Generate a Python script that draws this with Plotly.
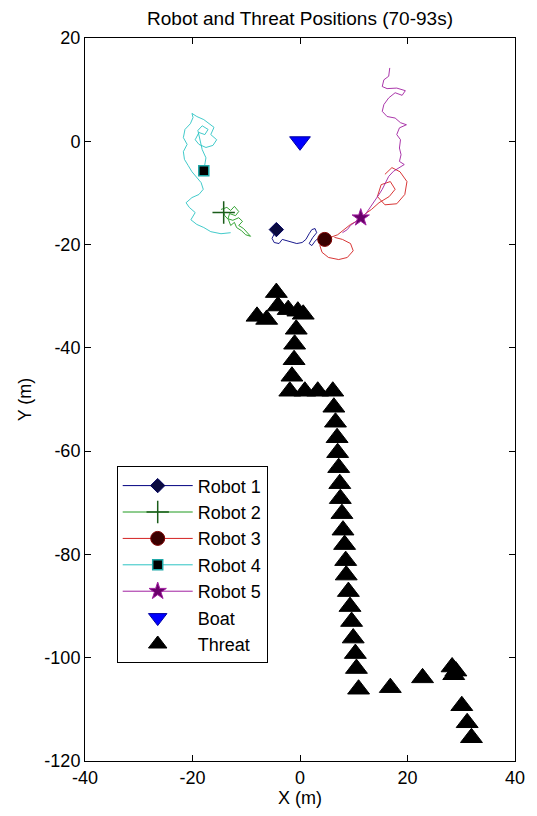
import plotly.graph_objects as go

# ---------------- data ----------------
r1_x = [-4.4, -4.8, -5.2, -4.8, -3.9, -3.3, -2.6, -1.5, -0.6, 0.4, 1.1, 1.7, 2.2, 2.8, 3.1, 2.4, 1.7, 2.2, 2.9, 3.7, 4.4]
r1_y = [-17.1, -17.9, -18.8, -19.6, -19.8, -19.0, -19.2, -19.4, -19.8, -19.6, -19.0, -17.9, -17.1, -16.9, -17.7, -18.6, -19.8, -20.2, -19.2, -18.6, -19.0]

r2_x = [-14.7, -13.6, -12.9, -12.2, -11.4, -12.0, -13.1, -13.4, -12.5, -11.4, -10.7, -11.4, -10.5, -9.8, -9.2, -10.1, -10.9, -11.8, -12.2, -12.9, -13.3, -14.0, -14.2]
r2_y = [-13.2, -12.8, -13.4, -12.6, -13.6, -14.4, -14.0, -15.0, -15.3, -14.8, -15.5, -16.3, -16.9, -17.7, -18.4, -18.1, -17.3, -16.7, -15.7, -16.3, -15.2, -14.4, -13.8]

r3_x = [15.8, 17.1, 18.6, 19.9, 19.5, 18.0, 15.8, 14.4, 15.1, 16.8, 17.7, 16.6, 14.7, 13.3, 12.2, 10.9, 9.4, 8.1, 7.0, 5.7, 4.6, 3.7, 4.1, 5.3, 7.2, 8.8, 9.9, 9.4, 7.9, 6.4]
r3_y = [-6.4, -5.1, -5.9, -7.8, -10.3, -12.1, -12.3, -10.7, -8.4, -7.8, -9.3, -10.7, -11.9, -13.2, -14.0, -15.3, -16.1, -17.1, -18.1, -18.6, -19.0, -20.2, -21.5, -22.5, -22.9, -22.5, -21.2, -19.8, -19.0, -18.6]

r4_x = [-12.9, -14.7, -16.6, -17.9, -19.2, -20.3, -19.5, -20.6, -21.2, -20.1, -18.8, -18.0, -18.4, -19.3, -20.1, -20.8, -21.5, -21.7, -21.0, -21.7, -21.4, -20.4, -19.9, -20.1, -19.2, -17.9, -16.9, -16.0, -16.6, -15.5, -16.2, -17.5, -18.8, -19.5, -18.8, -17.7, -17.1, -18.2, -19.0, -18.2, -17.5, -17.7, -17.9]
r4_y = [-17.7, -17.9, -17.5, -16.7, -16.1, -15.2, -13.8, -12.8, -11.9, -10.9, -10.3, -9.3, -8.0, -7.0, -5.9, -4.7, -3.5, -2.0, -0.6, 0.7, 2.3, 3.4, 4.6, 5.4, 4.8, 4.2, 3.4, 2.7, 1.3, 0.3, -0.8, -1.2, -0.6, 0.3, 1.7, 1.3, 2.3, 3.0, 2.1, -1.6, -3.2, -4.5, -5.7]

r5_x = [16.7, 16.5, 15.6, 15.3, 16.2, 18.0, 19.6, 19.0, 17.7, 16.5, 15.6, 15.3, 16.2, 17.7, 18.7, 19.8, 18.5, 18.0, 18.7, 18.5, 18.8, 18.5, 19.4, 18.4, 17.4, 16.5, 15.9, 15.3, 14.7, 13.9, 13.1, 12.2, 11.3, 10.4, 9.4, 8.8, 7.9]
r5_y = [14.2, 12.6, 11.9, 10.6, 10.2, 10.3, 9.8, 8.9, 9.4, 8.4, 7.1, 5.8, 4.8, 4.5, 3.6, 3.2, 2.6, 1.3, 0.3, -1.3, -2.6, -3.9, -4.5, -5.1, -5.8, -6.8, -8.1, -9.3, -10.3, -11.6, -12.9, -14.1, -14.8, -15.5, -16.3, -17.1, -17.7]

robot_names = ["Robot 1", "Robot 2", "Robot 3", "Robot 4", "Robot 5"]
robot_pos_x = [-4.4, -14.2, 4.6, -17.9, 11.3]
robot_pos_y = [-17.1, -13.8, -19.0, -5.7, -14.8]

boat_x = [0]
boat_y = [0]

threat_x = [-4.4, -8.0, -6.2, -4.1, -2.2, -0.4, 0.6,
            -0.7, -1.0, -1.1, -1.5, -1.9, 0.9, 3.3, 6.1,
            6.3, 6.6, 6.9, 7.0, 7.2, 7.4, 7.5, 7.8, 8.0, 8.3, 8.5, 8.6, 9.0, 9.3, 9.6, 9.9, 10.3, 10.5, 10.9,
            16.8, 22.8, 28.3, 29.0, 28.6, 30.1, 31.1, 31.9]
threat_y = [-29.3, -33.9, -34.5, -31.9, -32.6, -32.9, -33.5,
            -36.4, -39.3, -42.3, -45.5, -48.4, -48.4, -48.4, -48.4,
            -51.5, -54.4, -57.4, -60.3, -63.2, -66.3, -69.2, -72.1, -75.3, -78.1, -81.2, -84.0, -87.2, -90.1, -93.0, -96.2, -99.2, -102.1, -106.1,
            -105.8, -103.9, -101.8, -102.6, -103.3, -109.3, -112.6, -115.5]

x_ticks = [-40, -20, 0, 20, 40]
y_ticks = [-120, -100, -80, -60, -40, -20, 0, 20]

# ---------------- styles ----------------
paths = [(r1_x, r1_y), (r2_x, r2_y), (r3_x, r3_y), (r4_x, r4_y), (r5_x, r5_y)]
line_colors = ["#000080", "#1f9a1f", "#d42020", "#2cc4c4", "#a020a0"]
symbols = ["diamond", "cross-thin", "circle", "square", "star"]
msizes = [11, 16, 14, 10, 13]
mfill = ["#0b0b40", "#1a5c1a", "#3a0000", "#000000", "#6a006a"]
medge = ["#000060", "#1a5c1a", "#800000", "#20a8a8", "#a020a0"]
mlw = [1, 1.5, 1, 1.5, 1]

FONT = "Liberation Sans, Arial, sans-serif"

fig = go.Figure()

for i, (px, py) in enumerate(paths):
    fig.add_trace(go.Scatter(x=px, y=py, mode="lines",
                             line=dict(color=line_colors[i], width=0.9),
                             showlegend=False, hoverinfo="skip"))

for i in range(5):
    fig.add_trace(go.Scatter(x=[robot_pos_x[i]], y=[robot_pos_y[i]], mode="lines+markers",
                             name=robot_names[i],
                             line=dict(color=line_colors[i], width=1),
                             marker=dict(symbol=symbols[i], size=msizes[i], color=mfill[i],
                                         line=dict(color=medge[i], width=mlw[i]))))

fig.add_trace(go.Scatter(x=boat_x, y=boat_y, mode="markers", name="Boat",
                         marker=dict(symbol="triangle-down", size=18, color="#0000ff",
                                     line=dict(color="#0000a0", width=1))))

fig.add_trace(go.Scatter(x=threat_x, y=threat_y, mode="markers", name="Threat",
                         marker=dict(symbol="triangle-up", size=19, color="#000000",
                                     line=dict(color="#000000", width=1))))

axis_common = dict(showline=True, linecolor="black", linewidth=1, mirror="ticks",
                   ticks="inside", ticklen=6, tickcolor="black", showgrid=False,
                   zeroline=False, tickfont=dict(family=FONT, size=18, color="black"))

fig.update_layout(
    width=537, height=816,
    margin=dict(l=85, r=18, t=38, b=54),
    paper_bgcolor="white", plot_bgcolor="white",
    font=dict(family=FONT, size=18, color="black"),
    title=dict(text="Robot and Threat Positions (70-93s)", x=0.5, xref="paper",
               y=1 - 18 / 816, yref="container", yanchor="middle",
               font=dict(family=FONT, size=19, color="black")),
    xaxis=dict(range=[-40, 40], tickvals=x_ticks, ticktext=[str(v) for v in x_ticks],
               title=dict(text="X (m)", font=dict(family=FONT, size=18), standoff=4),
               **axis_common),
    yaxis=dict(range=[-120, 20], tickvals=y_ticks, ticktext=[str(v) for v in y_ticks],
               title=dict(text="Y (m)", font=dict(family=FONT, size=18), standoff=8),
               **axis_common),
    legend=dict(x=(117 - 85) / 434, y=(762 - 467) / 724, xanchor="left", yanchor="top",
                bgcolor="white", bordercolor="black", borderwidth=1,
                font=dict(family=FONT, size=18, color="black"),
                tracegroupgap=0, itemwidth=70),
    showlegend=True,
)

fig.write_html("out.html")
